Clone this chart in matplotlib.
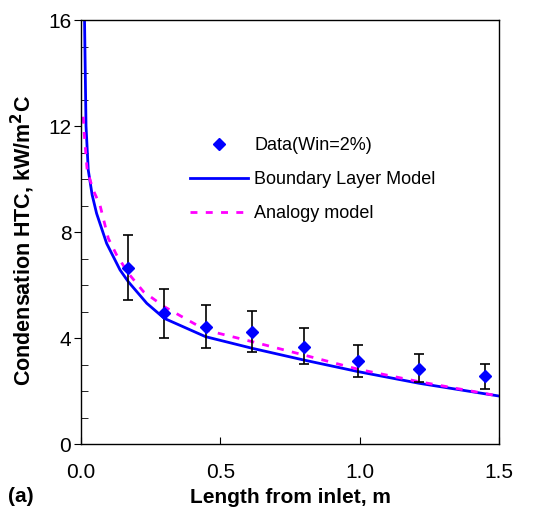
import numpy as np
import matplotlib
matplotlib.use('Agg')
import matplotlib.pyplot as plt
from matplotlib.ticker import MultipleLocator

plt.rcParams['font.family'] = ['Liberation Sans', 'DejaVu Sans']

# Measured data (Win = 2%)
x_data = [0.170, 0.299, 0.447, 0.615, 0.799, 0.995, 1.214, 1.451]
y_data = [6.63, 4.93, 4.43, 4.21, 3.66, 3.12, 2.84, 2.58]
y_upper = [7.89, 5.86, 5.26, 5.03, 4.38, 3.72, 3.41, 3.02]
y_lower = [5.43, 4.00, 3.61, 3.46, 3.03, 2.54, 2.35, 2.09]

# Boundary layer model
x_bl = [0.012, 0.018, 0.026, 0.040, 0.056, 0.092, 0.140, 0.170, 0.236, 0.299,
        0.447, 0.615, 0.799, 0.995, 1.214, 1.5]
y_bl = [16.5, 12.0, 10.34, 9.4, 8.7, 7.57, 6.57, 6.12, 5.31, 4.74,
        4.05, 3.61, 3.17, 2.73, 2.29, 1.81]

# Analogy model
x_an = [0.008, 0.012, 0.022, 0.043, 0.068, 0.098, 0.128, 0.170, 0.224, 0.299,
        0.447, 0.615, 0.799, 0.995, 1.214, 1.5]
y_an = [12.35, 11.66, 10.34, 9.6, 9.02, 7.76, 7.13, 6.44, 5.75, 5.18,
        4.30, 3.86, 3.36, 2.82, 2.35, 1.81]

fig = plt.figure(figsize=(5.41, 5.08), dpi=100)
ax = fig.add_axes([81/541, 1-444/508, (499-81)/541, (444-20)/508])

err = [np.array(y_data) - np.array(y_lower), np.array(y_upper) - np.array(y_data)]
ax.errorbar(x_data, y_data, yerr=err, fmt='none', ecolor='black', elinewidth=1.2,
            capsize=3.5, capthick=1.2, zorder=3)
h_data, = ax.plot(x_data, y_data, 'D', color='#0000FF', ms=6.5, zorder=4,
                  label='Data(Win=2%)')
h_bl, = ax.plot(x_bl, y_bl, '-', color='#0000FF', lw=2, zorder=2,
                label='Boundary Layer Model')
h_an, = ax.plot(x_an, y_an, color='#FF00FF', lw=2, linestyle=(0, (2.5, 3)), zorder=2,
                label='Analogy model')

ax.set_xlim(0, 1.5)
ax.set_ylim(0, 16)
ax.xaxis.set_major_locator(MultipleLocator(0.5))
ax.yaxis.set_major_locator(MultipleLocator(4))
ax.yaxis.set_minor_locator(MultipleLocator(1))
ax.xaxis.set_major_formatter(plt.FormatStrFormatter('%.1f'))
ax.tick_params(axis='x', direction='in', length=5, labelsize=15, pad=14)
ax.tick_params(axis='y', which='major', direction='out', length=5, labelsize=15, pad=2)
ax.tick_params(axis='y', which='minor', direction='in', length=5)
for s in ax.spines.values():
    s.set_linewidth(1.0)

ax.set_xlabel('Length from inlet, m', fontsize=15, fontweight='bold', labelpad=4)
ax.set_ylabel('Condensation HTC, kW/m$\\mathbf{^2}$C', fontsize=15.5, fontweight='bold')
ax.yaxis.set_label_coords(-0.105, 0.481)
fig.text(8/541, 1-497/508, '(a)', fontsize=15, fontweight='bold', va='center')

fig.legend(handles=[h_data, h_bl, h_an], loc='upper left',
           bbox_to_anchor=(190/541, 1-137/508), frameon=False, fontsize=13,
           borderpad=0, borderaxespad=0, handlelength=3.2, handletextpad=0.35,
           labelspacing=0.95, numpoints=1)

fig.savefig('out.png', dpi=100)
